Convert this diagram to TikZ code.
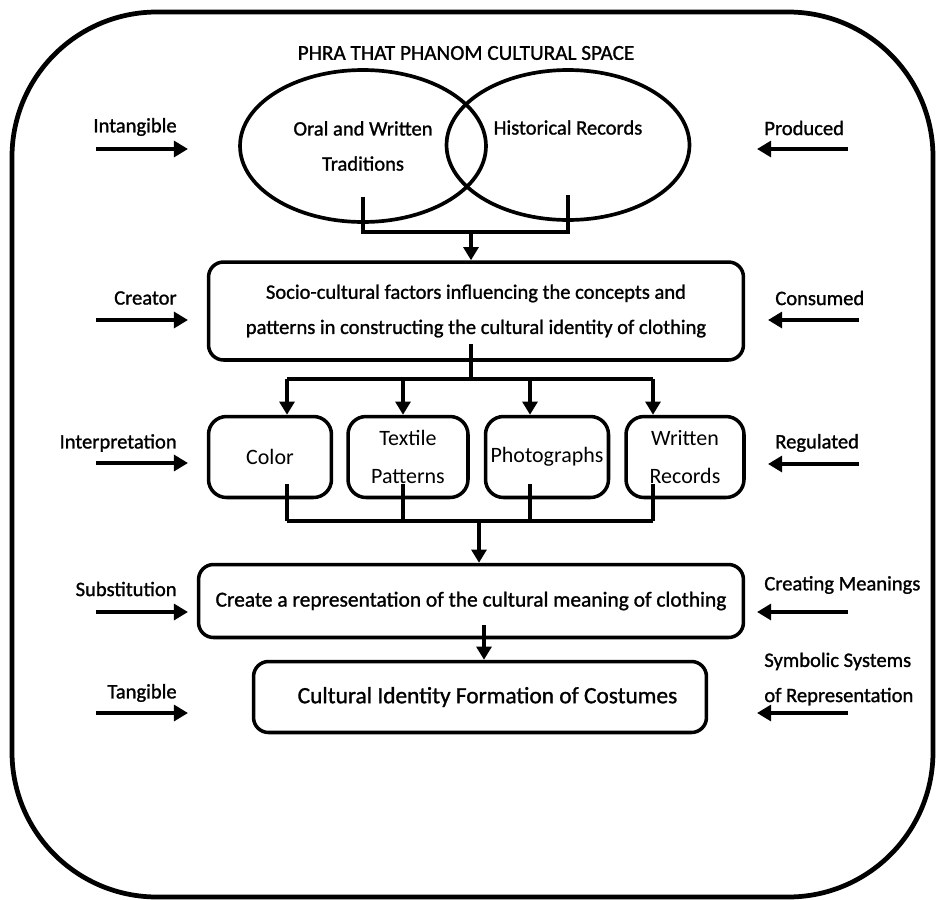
\documentclass[tikz,border=0pt]{standalone}
\usepackage{fontspec}
\setmainfont{Carlito}
\newfontfamily\heavyfont{Carlito}[FakeBold=1.2]
\usetikzlibrary{arrows.meta, positioning, shapes.geometric}

\tikzset{
  box/.style={draw, line width=2pt, rounded corners=0.3cm, align=center, inner sep=1pt},
  item/.style={box, rounded corners=0.36cm, minimum height=1.62cm, font=\normalfont\fontsize{12.5}{21.5}\selectfont},
  ell/.style={draw, ellipse, line width=2.1pt, align=center, inner sep=0pt},
  conn/.style={line width=2.1pt},
  arr/.style={conn, -{Triangle[length=7.5pt, width=8.5pt]}},
  side/.style={line width=2.3pt, -{Triangle[length=8pt, width=9pt]}},
  lbl/.style={inner sep=0pt, align=left}
}

\begin{document}
\begin{tikzpicture}[x=0.02cm, y=-0.02cm, font=\heavyfont\fontsize{11.7}{20}\selectfont]
    \useasboundingbox (0,0) rectangle (936,899);

    % Outer frame
    \draw[line width=2.7pt, rounded corners=2.9cm] (12,12) rectangle (933,897);

    % Title
    \node[font=\heavyfont\fontsize{12.1}{20}\selectfont] (title) at (466,53) {PHRA THAT PHANOM CULTURAL SPACE};

    % Sources
    \node[ell, minimum width=4.92cm, minimum height=3.04cm] (oral) at (363,146) {Oral and Written\\Traditions};
    \node[ell, minimum width=4.86cm, minimum height=3cm] (hist) at (568,145) {Historical Records\\\mbox{}};

    % Factors
    \node[box, minimum width=10.7cm, minimum height=1.96cm] (socio) at (476,311)
        {Socio-cultural factors influencing the concepts and\\patterns in constructing the cultural identity of clothing};

    % Items
    \node[item, minimum width=2.46cm] (color) at (270,457) {Color};
    \node[item, minimum width=2.4cm] (textile) at (408,457) {Textile\\Patterns};
    \node[item, minimum width=2.46cm] (photo) at (547,457) {Photographs};
    \node[item, minimum width=2.36cm] (written) at (685,457) {Written\\Records};

    % Representation and identity
    \node[box, minimum width=10.9cm, minimum height=1.46cm, font=\heavyfont\fontsize{12.2}{20}\selectfont] (repr) at (471,601)
        {Create a representation of the cultural meaning of clothing};
    \node[box, minimum width=9.06cm, minimum height=1.42cm, font=\heavyfont\fontsize{13.3}{20}\selectfont] (ident) at (480,697)
        {\hspace{0.3cm}Cultural Identity Formation of Costumes};

    % Sources -> factors
    \coordinate (j1) at (471,232);
    \draw[conn] ([yshift=0.54cm]oral.south) |- (j1) -| ([yshift=0.54cm]hist.south);
    \draw[arr] (j1) -- (j1 |- socio.north);

    % Factors -> items -> representation
    \coordinate (j2) at (471,379);
    \draw[conn] ([yshift=0.36cm]socio.south -| j2) -- (j2);
    \foreach \b/\x in {color/287, textile/403, photo/530, written/653} {
        \coordinate (top-\b) at (\x,379);
        \coordinate (bot-\b) at (\x,521);
        \draw[arr] (top-\b) -- (\b.north -| top-\b);
        \draw[conn] ([yshift=0.3cm]\b.south -| bot-\b) -- (bot-\b);
    }
    \draw[conn] (top-color) -- (top-written);
    \draw[conn] (bot-color) -- (bot-written);
    \coordinate (j3) at (479,521);
    \draw[arr] (j3) -- (j3 |- repr.north);

    % Representation -> identity
    \coordinate (j4) at (484,625);
    \draw[arr] (j4) -- (j4 |- ident.north);

    % Left side
    \foreach \n/\t/\y/\a in {a/Intangible/127/149, b/Creator/298/320, c/Interpretation/443/463,
                             d/Substitution/589/612, e/Tangible/693/713} {
        \node[lbl, anchor=east] (in-\n) at (177,\y) {\t};
        \coordinate (ina-\n) at (96,\a);
        \coordinate (inb-\n) at (188,\a);
        \draw[side] (ina-\n) -- (inb-\n);
    }

    % Right side
    \foreach \n/\t/\y/\a/\s in {a/Produced/128/149/757, b/Consumed/298/320/768, c/Regulated/443/464/768,
                                d/Creating Meanings/585/612/757, e/{Symbolic Systems\\of Representation}/679/713/757} {
        \node[lbl, anchor=west] (out-\n) at (\s+7,\y) {\t};
        \coordinate (outa-\n) at (\s+91,\a);
        \coordinate (outb-\n) at (\s,\a);
        \draw[side] (outa-\n) -- (outb-\n);
    }

\end{tikzpicture}
\end{document}
